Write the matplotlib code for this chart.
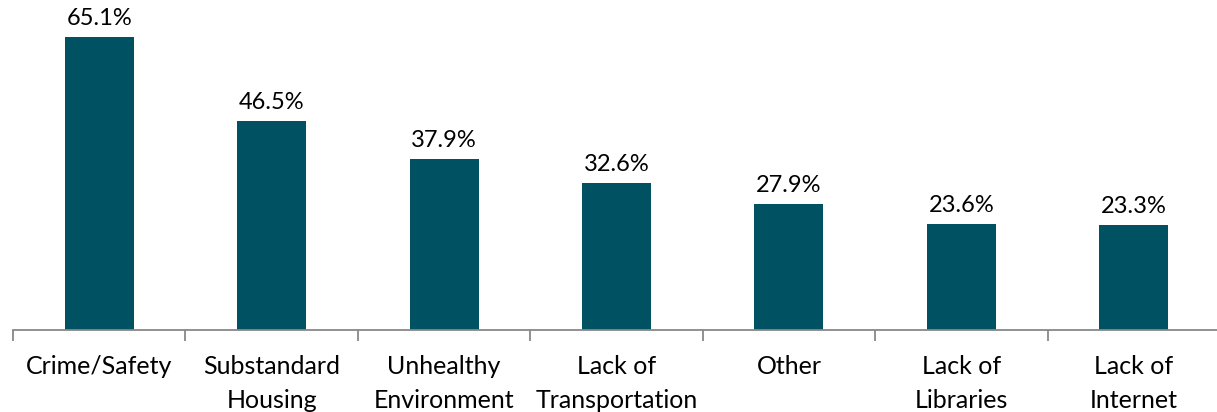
import matplotlib.pyplot as plt
import numpy as np

categories = ["Crime/Safety", "Substandard\nHousing", "Unhealthy\nEnvironment", "Lack of\nTransportation",
              "Other", "Lack of\nLibraries", "Lack of\nInternet"]
values = [65.1, 46.5, 37.9, 32.6, 27.9, 23.6, 23.3]

plt.rcParams['font.family'] = ['Lato', 'DejaVu Sans']

fig = plt.figure(figsize=(12.17, 4.12), dpi=100)
ax = fig.add_axes([13/1217, 82/412, 1207/1217, 330/412])
x = np.arange(len(values))
ax.bar(x, values, width=0.4, color='#005263')
for i, v in enumerate(values):
  ax.text(i, v + 1.8, "{:.1f}%".format(v), ha='center', va='bottom', fontsize=17)

ax.set_xlim(-0.5, 6.5)
ax.set_ylim(0, 73.3)
ax.set_yticks([])
for s in ['top', 'right', 'left']:
  ax.spines[s].set_visible(False)
ax.spines['bottom'].set_color('#888888')
ax.spines['bottom'].set_linewidth(1.3)
ax.set_xticks(np.arange(-0.5, 7, 1))
ax.set_xticklabels([])
ax.tick_params(axis='x', length=8, width=1.3, color='#888888', direction='out')
ax.set_xticks(x, minor=True)
ax.set_xticklabels(categories, minor=True, fontsize=18, linespacing=1.6)
ax.tick_params(axis='x', which='minor', length=0, pad=18)

fig.savefig("out.png", dpi=100)
